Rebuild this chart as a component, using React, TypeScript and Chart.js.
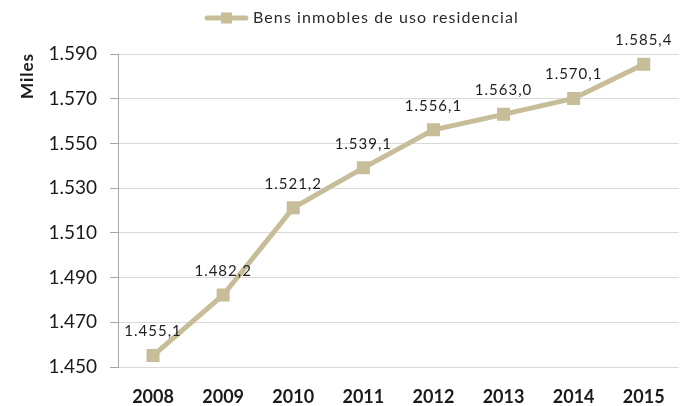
import React, { useEffect, useRef } from "react";
import { Chart, registerables } from "chart.js";

Chart.register(...registerables);

const categories = ["2008", "2009", "2010", "2011", "2012", "2013", "2014", "2015"];
const values = [1455.1, 1482.2, 1521.2, 1539.1, 1556.1, 1563.0, 1570.1, 1585.4];
const seriesName = "Bens inmobles de uso residencial";
const axisTitle = "Miles";
const yMin = 1450;
const yMax = 1590;
const yStep = 20;

const COLOR = "#c7bd99";
const FONT = "Lato, 'Open Sans', sans-serif";

function fmtThousands(v: number, decimals: number): string {
  const s = v.toFixed(decimals);
  const [intPart, dec] = s.split(".");
  const grouped = intPart.replace(/\B(?=(\d{3})+(?!\d))/g, ".");
  return dec !== undefined ? grouped + "," + dec : grouped;
}

const overlayPlugin = {
  id: "overlay",
  afterDatasetsDraw(chart: any) {
    const ctx = chart.ctx;
    const meta = chart.getDatasetMeta(0);
    ctx.save();
    // data labels
    ctx.font = `15px ${FONT}`;
    (ctx as any).letterSpacing = "1px";
    ctx.fillStyle = "#1e1e1e";
    ctx.textAlign = "center";
    ctx.textBaseline = "middle";
    meta.data.forEach((pt: any, i: number) => {
      ctx.fillText(fmtThousands(values[i], 1), pt.x, pt.y - 24);
    });
    // axis title
    ctx.save();
    ctx.translate(28, 76);
    ctx.rotate(-Math.PI / 2);
    ctx.font = `bold 17px ${FONT}`;
    (ctx as any).letterSpacing = "1px";
    ctx.fillStyle = "#1a1a1a";
    ctx.fillText(axisTitle, 0, 0);
    ctx.restore();
    // legend
    const ly = 18;
    ctx.strokeStyle = COLOR;
    ctx.lineWidth = 5;
    ctx.lineCap = "round";
    ctx.beginPath();
    ctx.moveTo(207, ly);
    ctx.lineTo(246, ly);
    ctx.stroke();
    ctx.fillStyle = COLOR;
    ctx.fillRect(221, ly - 5.5, 11, 11);
    ctx.font = `16px ${FONT}`;
    (ctx as any).letterSpacing = "1.1px";
    ctx.fillStyle = "#2a2a2a";
    ctx.textAlign = "left";
    ctx.fillText(seriesName, 253, ly);
    ctx.restore();
  },
};

export default function App() {
  const canvasRef = useRef<HTMLCanvasElement | null>(null);

  useEffect(() => {
    document.body.style.margin = "0";
    const canvas = canvasRef.current;
    if (!canvas) return;
    const chart = new Chart(canvas, {
      type: "line",
      data: {
        labels: categories,
        datasets: [
          {
            label: seriesName,
            data: values,
            borderColor: COLOR,
            backgroundColor: COLOR,
            borderWidth: 5,
            pointStyle: "rect",
            pointRadius: 9.2,
            pointBorderWidth: 0,
            pointBackgroundColor: COLOR,
            tension: 0,
          },
        ],
      },
      options: {
        animation: false,
        responsive: false,
        maintainAspectRatio: false,
        layout: { padding: { top: 54, right: 2, left: 0, bottom: 0 } },
        plugins: {
          legend: { display: false },
          tooltip: { enabled: false },
          title: { display: false },
        },
        scales: {
          x: {
            offset: true,
            grid: { display: false, drawTicks: false },
            border: { display: true, color: "#d9d9d9" },
            ticks: {
              color: "#1a1a1a",
              font: { family: FONT, size: 18, weight: "bold" },
              padding: 19,
            },
            afterFit(scale: any) {
              scale.height = 39;
            },
          },
          y: {
            min: yMin,
            max: yMax,
            grid: { color: "#d9d9d9", tickLength: 8, tickColor: "#a6a6a6" },
            border: { display: true, color: "#a6a6a6" },
            ticks: {
              stepSize: yStep,
              color: "#1a1a1a",
              font: { family: FONT, size: 19 },
              padding: 13,
              callback: (v: any) => fmtThousands(Number(v), 0),
            },
            afterFit(scale: any) {
              scale.width = 118;
            },
          },
        },
      },
      plugins: [overlayPlugin],
    });
    return () => chart.destroy();
  }, []);

  return (
    <div style={{ position: "fixed", left: 0, top: 0, width: 688, height: 406, background: "#fff" }}>
      <canvas ref={canvasRef} width={688} height={406} style={{ width: 688, height: 406 }} />
    </div>
  );
}
